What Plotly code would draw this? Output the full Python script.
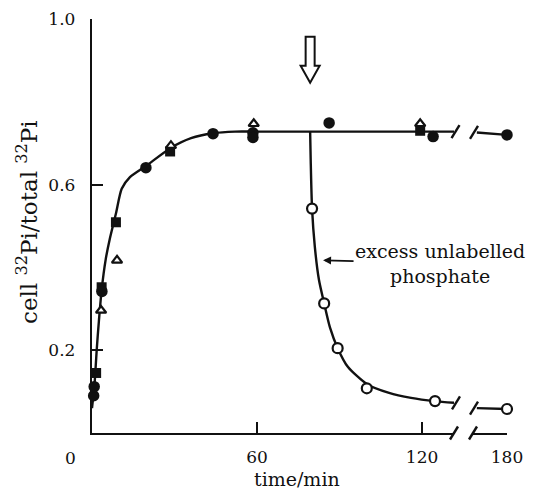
import plotly.graph_objects as go

# ---------------- data ----------------
# filled circles
t_circ = [0.6, 0.8, 3.6, 19.6, 44, 58.5, 58.5, 86.2, 124]
v_circ = [0.09, 0.112, 0.342, 0.641, 0.723, 0.725, 0.714, 0.749, 0.716]
# filled squares
t_sq = [1.5, 3.5, 8.7, 28.4, 119.3]
v_sq = [0.145, 0.352, 0.509, 0.68, 0.73]
# open triangles
t_tri = [3.3, 9.1, 28.7, 58.8, 119.3]
v_tri = [0.296, 0.417, 0.694, 0.747, 0.747]
# open circles (after excess unlabelled phosphate)
t_open = [80, 84.4, 89.3, 99.9, 124.7]
v_open = [0.542, 0.313, 0.205, 0.108, 0.077]
# points after the axis break (180 min)
t_late = [180]
v_late_filled = [0.72]
v_late_open = [0.058]

# hand-drawn curves
t_up = [0, 0.5, 1, 1.7, 2.5, 3.5, 5, 6.5, 8.7, 10.8, 13.8, 19.6, 28.5, 36, 44, 52, 60, 131.6]
v_up = [0.06, 0.09, 0.125, 0.2, 0.27, 0.345, 0.42, 0.47, 0.53, 0.59, 0.618, 0.645, 0.688, 0.712, 0.724, 0.728, 0.728, 0.728]
t_dn = [79.3, 79.5, 80, 81, 82.5, 84.4, 86.5, 89.3, 93, 100, 108, 116, 124.7, 131.6]
v_dn = [0.728, 0.66, 0.542, 0.45, 0.37, 0.313, 0.255, 0.205, 0.16, 0.118, 0.097, 0.085, 0.077, 0.073]
t_up2 = [169, 180]
v_up2 = [0.726, 0.72]
t_dn2 = [169, 180]
v_dn2 = [0.06, 0.058]

t_add = 79.3  # time of addition of excess unlabelled phosphate

x_ticks1 = [60, 120]
x_ticks2 = [180]
y_ticks = [0.2, 0.6, 1.0]

# ---------------- layout geometry ----------------
W, H = 533, 492
L, R, T, B = 92, 26, 19, 59
PW, PH = W - L - R, H - T - B
D1 = [0, (454 - L) / PW]
D2 = [(473 - L) / PW, 1]
R1 = [0, 131.6]
R2 = [167.6, 180]
YR = [0, 1.0]

FONT = "DejaVu Serif"
INK = "#111111"


def x1p(t):
    return D1[0] + (t - R1[0]) / (R1[1] - R1[0]) * (D1[1] - D1[0])


def x2p(t):
    return D2[0] + (t - R2[0]) / (R2[1] - R2[0]) * (D2[1] - D2[0])


def yp(v):
    return (v - YR[0]) / (YR[1] - YR[0])


fig = go.Figure()

line_style = dict(color=INK, width=2.4, shape="spline", smoothing=0.7)
fig.add_trace(go.Scatter(x=t_up, y=v_up, mode="lines", line=line_style, xaxis="x", yaxis="y", cliponaxis=False))
fig.add_trace(go.Scatter(x=t_dn, y=v_dn, mode="lines", line=line_style, xaxis="x", yaxis="y", cliponaxis=False))
fig.add_trace(go.Scatter(x=t_up2, y=v_up2, mode="lines", line=dict(color=INK, width=2.4), xaxis="x2", yaxis="y", cliponaxis=False))
fig.add_trace(go.Scatter(x=t_dn2, y=v_dn2, mode="lines", line=dict(color=INK, width=2.4), xaxis="x2", yaxis="y", cliponaxis=False))

fig.add_trace(go.Scatter(x=t_sq, y=v_sq, mode="markers", xaxis="x", yaxis="y", cliponaxis=False,
                         marker=dict(symbol="square", size=10, color=INK)))
fig.add_trace(go.Scatter(x=t_circ, y=v_circ, mode="markers", xaxis="x", yaxis="y", cliponaxis=False,
                         marker=dict(symbol="circle", size=11.5, color=INK)))
fig.add_trace(go.Scatter(x=t_tri, y=v_tri, mode="markers", xaxis="x", yaxis="y", cliponaxis=False,
                         marker=dict(symbol="triangle-up", size=9, color="white", line=dict(color=INK, width=2.2))))
fig.add_trace(go.Scatter(x=t_open, y=v_open, mode="markers", xaxis="x", yaxis="y", cliponaxis=False,
                         marker=dict(symbol="circle", size=10, color="white", line=dict(color=INK, width=2.2))))
fig.add_trace(go.Scatter(x=t_late, y=v_late_filled, mode="markers", xaxis="x2", yaxis="y", cliponaxis=False,
                         marker=dict(symbol="circle", size=11.5, color=INK)))
fig.add_trace(go.Scatter(x=t_late, y=v_late_open, mode="markers", xaxis="x2", yaxis="y", cliponaxis=False,
                         marker=dict(symbol="circle", size=10, color="white", line=dict(color=INK, width=2.2))))

# ---------------- axis break slashes ----------------
sx, sy = 4 / PW, 6.5 / PH
shapes = []
for cx, cy in [
    (x1p(R1[1]) + 1.5 / PW, yp(v_up[-1])),
    (x2p(R2[0]) + 1 / PW, yp(v_up2[0])),
    (x1p(R1[1]) + 2 / PW, yp(v_dn[-1])),
    (x2p(R2[0]) + 1 / PW, yp(v_dn2[0])),
    (x1p(R1[1]), yp(0)),
    (x2p(R2[0]), yp(0)),
]:
    shapes.append(dict(type="line", xref="paper", yref="paper",
                       x0=cx - sx, y0=cy - sy, x1=cx + sx, y1=cy + sy,
                       line=dict(color=INK, width=2.4)))

# open block arrow marking the addition
px_per_min = PW * (D1[1] - D1[0]) / (R1[1] - R1[0])
hw_s, hw_h = 4.5 / px_per_min, 9.5 / px_per_min
y_top, y_neck, y_tip = 0.957, 0.887, 0.846
path = (f"M {t_add - hw_s},{y_top} L {t_add + hw_s},{y_top} L {t_add + hw_s},{y_neck} "
        f"L {t_add + hw_h},{y_neck} L {t_add},{y_tip} L {t_add - hw_h},{y_neck} "
        f"L {t_add - hw_s},{y_neck} Z")
shapes.append(dict(type="path", xref="x", yref="y", path=path,
                   line=dict(color=INK, width=2), fillcolor="white"))

annotations = [
    dict(text="excess unlabelled<br>phosphate", x=84.0, y=0.417, xref="x", yref="y",
         ax=117, ay=3, showarrow=True, arrowhead=2, arrowsize=1, arrowwidth=1.6,
         arrowcolor=INK, align="center", font=dict(family=FONT, size=19, color=INK)),
    dict(text="time/min", x=(297 - L) / PW, y=(H - B - 479) / PH, xref="paper", yref="paper",
         showarrow=False, xanchor="center", yanchor="middle",
         font=dict(family=FONT, size=19, color=INK)),
    dict(text="0", x=(70 - L) / PW, y=(H - B - 458) / PH, xref="paper", yref="paper",
         showarrow=False, xanchor="center", yanchor="middle",
         font=dict(family=FONT, size=17, color=INK)),
    dict(text="cell <sup>32</sup>Pi/total <sup>32</sup>Pi", x=(27 - L) / PW, y=(H - B - 222) / PH,
         xref="paper", yref="paper", showarrow=False, textangle=-90,
         xanchor="center", yanchor="middle",
         font=dict(family=FONT, size=23, color=INK)),
]

axis_common = dict(showgrid=False, zeroline=False, showline=True, linecolor=INK, linewidth=2.4,
                   ticks="inside", tickcolor=INK, tickwidth=2, ticklen=11,
                   tickfont=dict(family=FONT, size=17, color=INK))

fig.update_layout(
    width=W, height=H,
    margin=dict(l=L, r=R, t=T, b=B, autoexpand=False),
    paper_bgcolor="white", plot_bgcolor="white",
    showlegend=False,
    xaxis=dict(domain=D1, range=R1, tickvals=x_ticks1, anchor="y", ticklabelstandoff=7, **axis_common),
    xaxis2=dict(domain=D2, range=R2, tickvals=x_ticks2, anchor="y", ticklabelstandoff=7, **axis_common),
    yaxis=dict(range=YR, tickvals=y_ticks, tickformat=".1f", anchor="x", ticklabelstandoff=11,
               **axis_common),
    shapes=shapes,
    annotations=annotations,
)

fig.write_html("out.html", config={"displayModeBar": False},
               post_script="document.body.style.margin='0';document.body.style.padding='0';")
